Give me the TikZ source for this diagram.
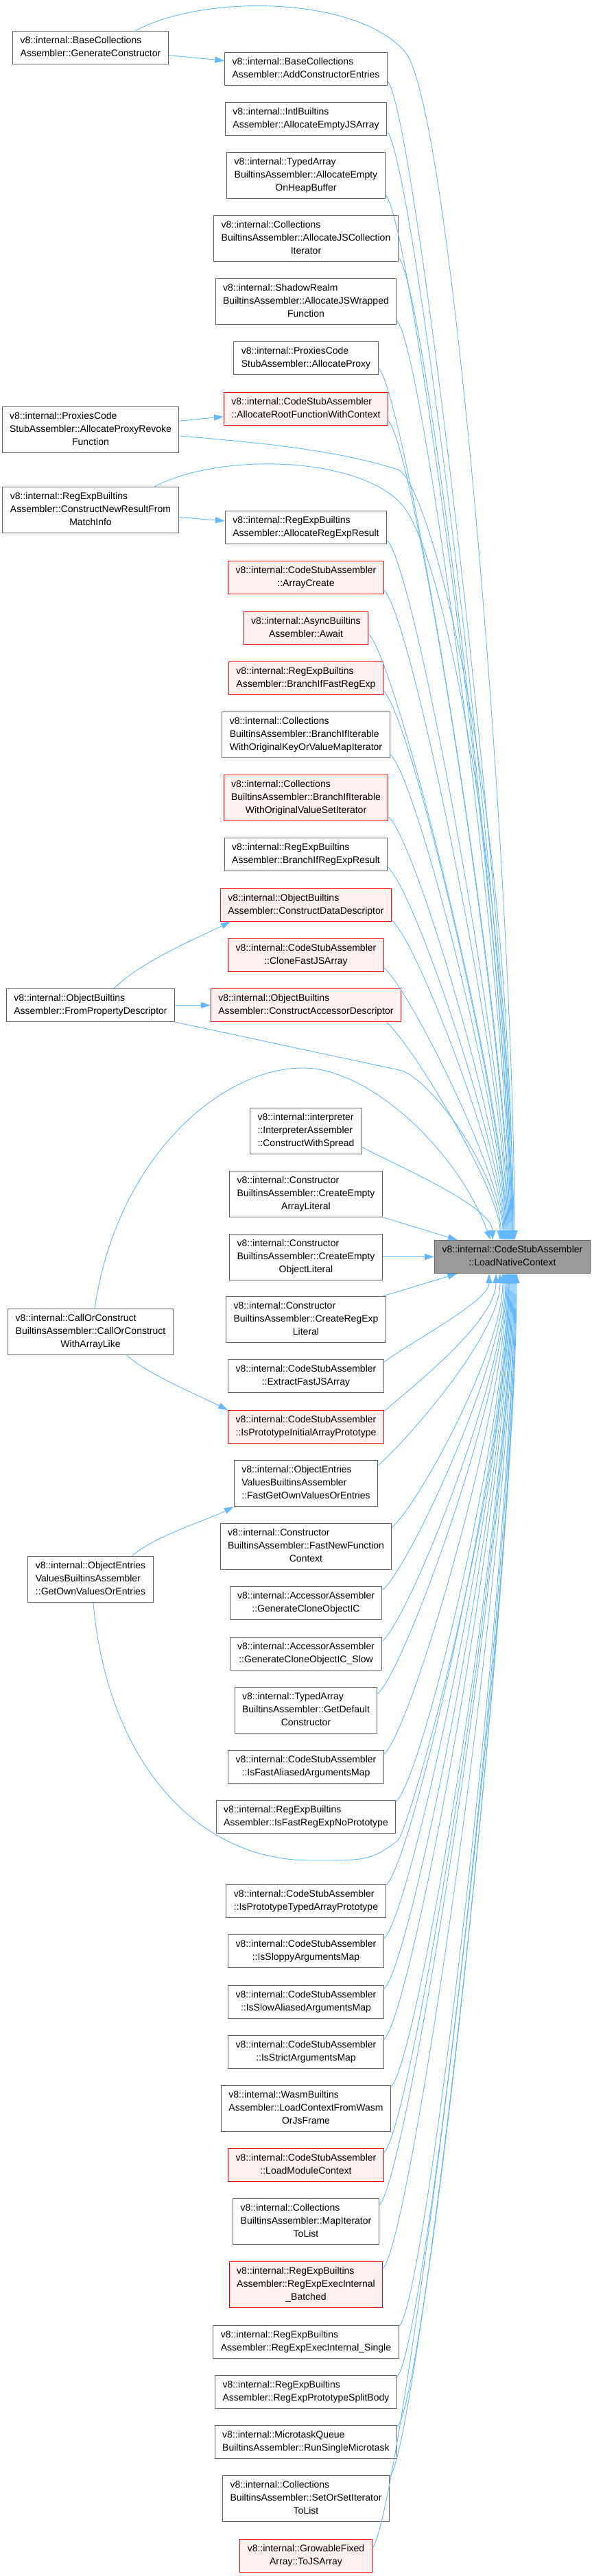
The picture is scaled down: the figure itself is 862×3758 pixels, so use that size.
\documentclass[tikz,border=0pt]{standalone}
\usepackage{fontspec}
\setmainfont{Liberation Sans}
\usetikzlibrary{arrows.meta}
\definecolor{edgeblue}{HTML}{63B8FF}
\definecolor{boxgray}{HTML}{666666}
\definecolor{hlred}{HTML}{FF0000}
\definecolor{hlfill}{HTML}{FFF0F0}
\definecolor{mainfill}{HTML}{999999}
% lines left, last line centred
\newcommand{\fnlines}[2]{\begin{tabular}{@{}l@{}}#1\\\multicolumn{1}{@{}c@{}}{#2}\end{tabular}}
\tikzset{
  fn/.style={draw=boxgray,fill=white,line width=1pt,inner xsep=11pt,inner ysep=5pt,font=\fontsize{14}{19}\selectfont},
  fnred/.style={fn,draw=hlred,fill=hlfill},
  fnmain/.style={fn,fill=mainfill},
  call/.style={draw=edgeblue,line width=0.9pt,-{Triangle[length=14pt,width=9pt]}}
}
\begin{document}
\begin{tikzpicture}[x=1pt,y=-1pt]
\path[use as bounding box,fill=white] (0,0) rectangle (862,3758);

% callers on the left
\node[fn] (gencons) at (132,69.5) {\fnlines{v8::internal::BaseCollections}{Assembler::GenerateConstructor}};
\node[fn] (proxyrev) at (132,627) {\fnlines{v8::internal::ProxiesCode\\StubAssembler::AllocateProxyRevoke}{Function}};
\node[fn] (newres) at (132,744) {\fnlines{v8::internal::RegExpBuiltins\\Assembler::ConstructNewResultFrom}{MatchInfo}};
\node[fn] (frompd) at (132,1466.5) {\fnlines{v8::internal::ObjectBuiltins}{Assembler::FromPropertyDescriptor}};
\node[fn] (callcons) at (132,1943) {\fnlines{v8::internal::CallOrConstruct\\BuiltinsAssembler::CallOrConstruct}{WithArrayLike}};
\node[fn] (getown) at (132,2304) {\fnlines{v8::internal::ObjectEntries\\ValuesBuiltinsAssembler}{::GetOwnValuesOrEntries}};

% the function itself
\node[fnmain] (lnc) at (747,1833.5) {\fnlines{v8::internal::CodeStubAssembler}{::LoadNativeContext}};

% middle column
\node[fn] (addce) at (446,100) {\fnlines{v8::internal::BaseCollections}{Assembler::AddConstructorEntries}};
\node[fn] (emptyjs) at (446,173.5) {\fnlines{v8::internal::IntlBuiltins}{Assembler::AllocateEmptyJSArray}};
\node[fn] (onheap) at (446,256) {\fnlines{v8::internal::TypedArray\\BuiltinsAssembler::AllocateEmpty}{OnHeapBuffer}};
\node[fn] (jscoll) at (446,348) {\fnlines{v8::internal::Collections\\BuiltinsAssembler::AllocateJSCollection}{Iterator}};
\node[fn] (jswrap) at (446,440) {\fnlines{v8::internal::ShadowRealm\\BuiltinsAssembler::AllocateJSWrapped}{Function}};
\node[fn] (proxy) at (446,522.5) {\fnlines{v8::internal::ProxiesCode}{StubAssembler::AllocateProxy}};
\node[fnred] (rootfn) at (446,596) {\fnlines{v8::internal::CodeStubAssembler}{::AllocateRootFunctionWithContext}};
\node[fn] (regexpres) at (446,769.5) {\fnlines{v8::internal::RegExpBuiltins}{Assembler::AllocateRegExpResult}};
\node[fnred] (arraycreate) at (446,842.5) {\fnlines{v8::internal::CodeStubAssembler}{::ArrayCreate}};
\node[fnred] (await) at (446,916.5) {\fnlines{v8::internal::AsyncBuiltins}{Assembler::Await}};
\node[fnred] (fastregexp) at (446,989.5) {\fnlines{v8::internal::RegExpBuiltins}{Assembler::BranchIfFastRegExp}};
\node[fn] (keyvalue) at (446,1072) {\fnlines{v8::internal::Collections\\BuiltinsAssembler::BranchIfIterable}{WithOriginalKeyOrValueMapIterator}};
\node[fnred] (valueset) at (446,1164) {\fnlines{v8::internal::Collections\\BuiltinsAssembler::BranchIfIterable}{WithOriginalValueSetIterator}};
\node[fn] (regexpresult) at (446,1246.5) {\fnlines{v8::internal::RegExpBuiltins}{Assembler::BranchIfRegExpResult}};
\node[fnred] (datadesc) at (446,1320) {\fnlines{v8::internal::ObjectBuiltins}{Assembler::ConstructDataDescriptor}};
\node[fnred] (clonefast) at (446,1393.5) {\fnlines{v8::internal::CodeStubAssembler}{::CloneFastJSArray}};
\node[fnred] (accdesc) at (446,1466.5) {\fnlines{v8::internal::ObjectBuiltins}{Assembler::ConstructAccessorDescriptor}};
\node[fn] (spread) at (446,1649.5) {\fnlines{v8::internal::interpreter\\::InterpreterAssembler}{::ConstructWithSpread}};
\node[fn] (emptyarr) at (446,1741.5) {\fnlines{v8::internal::Constructor\\BuiltinsAssembler::CreateEmpty}{ArrayLiteral}};
\node[fn] (emptyobj) at (446,1833.5) {\fnlines{v8::internal::Constructor\\BuiltinsAssembler::CreateEmpty}{ObjectLiteral}};
\node[fn] (regexplit) at (446,1925) {\fnlines{v8::internal::Constructor\\BuiltinsAssembler::CreateRegExp}{Literal}};
\node[fn] (extract) at (446,2007.5) {\fnlines{v8::internal::CodeStubAssembler}{::ExtractFastJSArray}};
\node[fnred] (initarr) at (446,2081.5) {\fnlines{v8::internal::CodeStubAssembler}{::IsPrototypeInitialArrayPrototype}};
\node[fn] (fastgetown) at (446,2164) {\fnlines{v8::internal::ObjectEntries\\ValuesBuiltinsAssembler}{::FastGetOwnValuesOrEntries}};
\node[fn] (newfnctx) at (446,2256) {\fnlines{v8::internal::Constructor\\BuiltinsAssembler::FastNewFunction}{Context}};
\node[fn] (cloneic) at (446,2338.5) {\fnlines{v8::internal::AccessorAssembler}{::GenerateCloneObjectIC}};
\node[fn] (cloneicslow) at (446,2412.5) {\fnlines{v8::internal::AccessorAssembler}{::GenerateCloneObjectIC\_Slow}};
\node[fn] (defcons) at (446,2495) {\fnlines{v8::internal::TypedArray\\BuiltinsAssembler::GetDefault}{Constructor}};
\node[fn] (fastalias) at (446,2577.5) {\fnlines{v8::internal::CodeStubAssembler}{::IsFastAliasedArgumentsMap}};
\node[fn] (fastnoproto) at (446,2650.5) {\fnlines{v8::internal::RegExpBuiltins}{Assembler::IsFastRegExpNoPrototype}};
\node[fn] (typedproto) at (446,2773) {\fnlines{v8::internal::CodeStubAssembler}{::IsPrototypeTypedArrayPrototype}};
\node[fn] (sloppy) at (446,2846.5) {\fnlines{v8::internal::CodeStubAssembler}{::IsSloppyArgumentsMap}};
\node[fn] (slowalias) at (446,2920) {\fnlines{v8::internal::CodeStubAssembler}{::IsSlowAliasedArgumentsMap}};
\node[fn] (strict) at (446,2993.5) {\fnlines{v8::internal::CodeStubAssembler}{::IsStrictArgumentsMap}};
\node[fn] (wasmframe) at (446,3076) {\fnlines{v8::internal::WasmBuiltins\\Assembler::LoadContextFromWasm}{OrJsFrame}};
\node[fnred] (modctx) at (446,3158.5) {\fnlines{v8::internal::CodeStubAssembler}{::LoadModuleContext}};
\node[fn] (maptolist) at (446,3241) {\fnlines{v8::internal::Collections\\BuiltinsAssembler::MapIterator}{ToList}};
\node[fnred] (batched) at (446,3333) {\fnlines{v8::internal::RegExpBuiltins\\Assembler::RegExpExecInternal}{\_Batched}};
\node[fn] (single) at (446,3416.5) {\fnlines{v8::internal::RegExpBuiltins}{Assembler::RegExpExecInternal\_Single}};
\node[fn] (splitbody) at (446,3489.5) {\fnlines{v8::internal::RegExpBuiltins}{Assembler::RegExpPrototypeSplitBody}};
\node[fn] (microtask) at (446,3562.5) {\fnlines{v8::internal::MicrotaskQueue}{BuiltinsAssembler::RunSingleMicrotask}};
\node[fn] (settolist) at (446,3645) {\fnlines{v8::internal::Collections\\BuiltinsAssembler::SetOrSetIterator}{ToList}};
\node[fnred] (tojs) at (446,3728) {\fnlines{v8::internal::GrowableFixed}{Array::ToJSArray}};

% left -> middle
\draw[call] (gencons) -- (addce);
\draw[call] (proxyrev) -- (rootfn);
\draw[call] (newres) -- (regexpres);
\draw[call] ([xshift=34pt]frompd.north) .. controls +(40,-40) and +(-40,20) .. ([xshift=15pt]datadesc.south west);
\draw[call] (frompd) -- (accdesc);
\draw[call] ([xshift=53pt]callcons.south) .. controls +(25,25) and +(-40,-20) .. (initarr.north west);
\draw[call] ([xshift=60pt]getown.north) .. controls +(35,-30) and +(-40,20) .. (fastgetown.south west);

% left -> LoadNativeContext
\draw[call] ([xshift=65pt]gencons.north) .. controls +(103,-55) and +(-70,-80) .. (590,75)
  .. controls +(70,80) and +(0,-500) .. ([xshift=3pt]lnc.north);
\draw[call] ([yshift=-9pt]proxyrev.east) .. controls +(150,12) and +(-80,-25) .. (580,685)
  .. controls +(40,12) and +(-5,-700) .. ([xshift=1pt]lnc.north);
\draw[call] ([xshift=93pt]newres.north) .. controls +(95,-50) and +(-65,-70) .. (585,735)
  .. controls +(65,70) and +(-5,-500) .. (lnc.north);
\draw[call] (frompd.south east) -- (582,1561) .. controls +(45,10) and +(-5,-100) .. ([xshift=-16pt]lnc.north);
\draw[call] ([xshift=6pt]callcons.north) .. controls +(32,-219) and +(-119,2) .. (439,1558)
  .. controls +(101,-2) and +(-45,-126) .. ([xshift=-32pt]lnc.north);
\draw[call] ([xshift=4pt]getown.south) .. controls +(19,222) and +(-173,0) .. (453,2714)
  .. controls +(80,0) and +(-40,30) .. (580,2685)
  .. controls +(20,-25) and +(-3,300) .. ([xshift=-5pt]lnc.south);

% middle -> LoadNativeContext, from above
\draw[call] ([yshift=6pt]addce.south east) .. controls +(40,35) and +(0,-400) .. ([xshift=2pt]lnc.north);
\draw[call] ([yshift=6pt]emptyjs.south east) .. controls +(40,35) and +(0,-380) .. ([xshift=0pt]lnc.north);
\draw[call] ([yshift=6pt]onheap.south east) .. controls +(40,35) and +(0,-360) .. ([xshift=-1pt]lnc.north);
\draw[call] ([yshift=6pt]jscoll.south east) .. controls +(40,35) and +(0,-340) .. ([xshift=-2pt]lnc.north);
\draw[call] ([yshift=6pt]jswrap.south east) .. controls +(40,35) and +(0,-320) .. ([xshift=-3pt]lnc.north);
\draw[call] ([yshift=10pt]proxy.south east) .. controls +(40,35) and +(0,-300) .. ([xshift=-4pt]lnc.north);
\draw[call] ([yshift=6pt]rootfn.south east) .. controls +(40,35) and +(0,-280) .. ([xshift=-5pt]lnc.north);
\draw[call] ([yshift=6pt]regexpres.south east) .. controls +(40,35) and +(0,-240) .. ([xshift=-6pt]lnc.north);
\draw[call] ([yshift=6pt]arraycreate.south east) .. controls +(40,35) and +(0,-220) .. ([xshift=-7pt]lnc.north);
\draw[call] ([yshift=16pt]await.south east) .. controls +(40,35) and +(0,-200) .. ([xshift=-8pt]lnc.north);
\draw[call] ([yshift=6pt]fastregexp.south east) .. controls +(40,35) and +(0,-180) .. ([xshift=-9pt]lnc.north);
\draw[call] ([yshift=6pt]keyvalue.south east) .. controls +(40,35) and +(0,-160) .. ([xshift=-10pt]lnc.north);
\draw[call] ([yshift=6pt]valueset.south east) .. controls +(40,35) and +(0,-140) .. ([xshift=-11pt]lnc.north);
\draw[call] ([yshift=6pt]regexpresult.south east) .. controls +(40,35) and +(0,-120) .. ([xshift=-12pt]lnc.north);
\draw[call] ([yshift=2pt]datadesc.south east) .. controls +(40,35) and +(0,-100) .. ([xshift=-13pt]lnc.north);
\draw[call] ([yshift=6pt]clonefast.south east) .. controls +(40,35) and +(0,-90) .. ([xshift=-14pt]lnc.north);
\draw[call] ([xshift=-22pt]accdesc.south east) .. controls +(40,35) and +(0,-70) .. ([xshift=-18pt]lnc.north);
\draw[call] ([yshift=10pt]spread.south east) .. controls +(40,22) and +(0,-50) .. ([xshift=-29pt]lnc.north);
\draw[call] (emptyarr) -- (lnc);
\draw[call] (emptyobj) -- (lnc);

% middle -> LoadNativeContext, from below
\draw[call] (regexplit) -- (lnc);
\draw[call] ([yshift=-4pt]extract.north east) .. controls +(40,-30) and +(0,40) .. ([xshift=-34pt]lnc.south);
\draw[call] ([yshift=-2pt]initarr.north east) .. controls +(40,-35) and +(0,70) .. ([xshift=-24pt]lnc.south);
\draw[call] ([yshift=-8pt]fastgetown.north east) .. controls +(40,-35) and +(0,90) .. ([xshift=-18pt]lnc.south);
\draw[call] ([yshift=-6pt]newfnctx.north east) .. controls +(40,-35) and +(0,110) .. ([xshift=-14pt]lnc.south);
\draw[call] ([yshift=-6pt]cloneic.north east) .. controls +(40,-35) and +(0,130) .. ([xshift=-12pt]lnc.south);
\draw[call] ([yshift=-6pt]cloneicslow.north east) .. controls +(40,-35) and +(0,150) .. ([xshift=-10pt]lnc.south);
\draw[call] ([yshift=-10pt]defcons.north east) .. controls +(40,-35) and +(0,170) .. ([xshift=-9pt]lnc.south);
\draw[call] ([yshift=-6pt]fastalias.north east) .. controls +(40,-35) and +(0,190) .. ([xshift=-8pt]lnc.south);
\draw[call] ([yshift=-2pt]fastnoproto.north east) .. controls +(40,-35) and +(0,210) .. ([xshift=-7pt]lnc.south);
\draw[call] ([yshift=-2pt]typedproto.north east) .. controls +(40,-35) and +(0,240) .. ([xshift=-6pt]lnc.south);
\draw[call] ([yshift=-6pt]sloppy.north east) .. controls +(40,-35) and +(0,260) .. ([xshift=-5pt]lnc.south);
\draw[call] ([yshift=-6pt]slowalias.north east) .. controls +(40,-35) and +(0,280) .. ([xshift=-4pt]lnc.south);
\draw[call] ([yshift=-6pt]strict.north east) .. controls +(40,-35) and +(0,300) .. ([xshift=-3pt]lnc.south);
\draw[call] ([yshift=-2pt]wasmframe.north east) .. controls +(40,-35) and +(0,320) .. ([xshift=-2pt]lnc.south);
\draw[call] ([yshift=-6pt]modctx.north east) .. controls +(40,-35) and +(0,340) .. ([xshift=-1pt]lnc.south);
\draw[call] ([yshift=-10pt]maptolist.north east) .. controls +(40,-35) and +(0,360) .. ([xshift=0pt]lnc.south);
\draw[call] ([yshift=-10pt]batched.north east) .. controls +(40,-35) and +(0,380) .. ([xshift=1pt]lnc.south);
\draw[call] ([yshift=-2pt]single.north east) .. controls +(40,-35) and +(0,400) .. ([xshift=2pt]lnc.south);
\draw[call] ([yshift=-2pt]splitbody.north east) .. controls +(40,-35) and +(0,420) .. ([xshift=3pt]lnc.south);
\draw[call] ([yshift=-2pt]microtask.north east) .. controls +(40,-35) and +(0,440) .. ([xshift=4pt]lnc.south);
\draw[call] ([yshift=-2pt]settolist.north east) .. controls +(40,-35) and +(0,460) .. ([xshift=5pt]lnc.south);
\draw[call] ([yshift=11pt]tojs.east) .. controls +(40,-35) and +(0,480) .. ([xshift=6pt]lnc.south);
\end{tikzpicture}
\end{document}
